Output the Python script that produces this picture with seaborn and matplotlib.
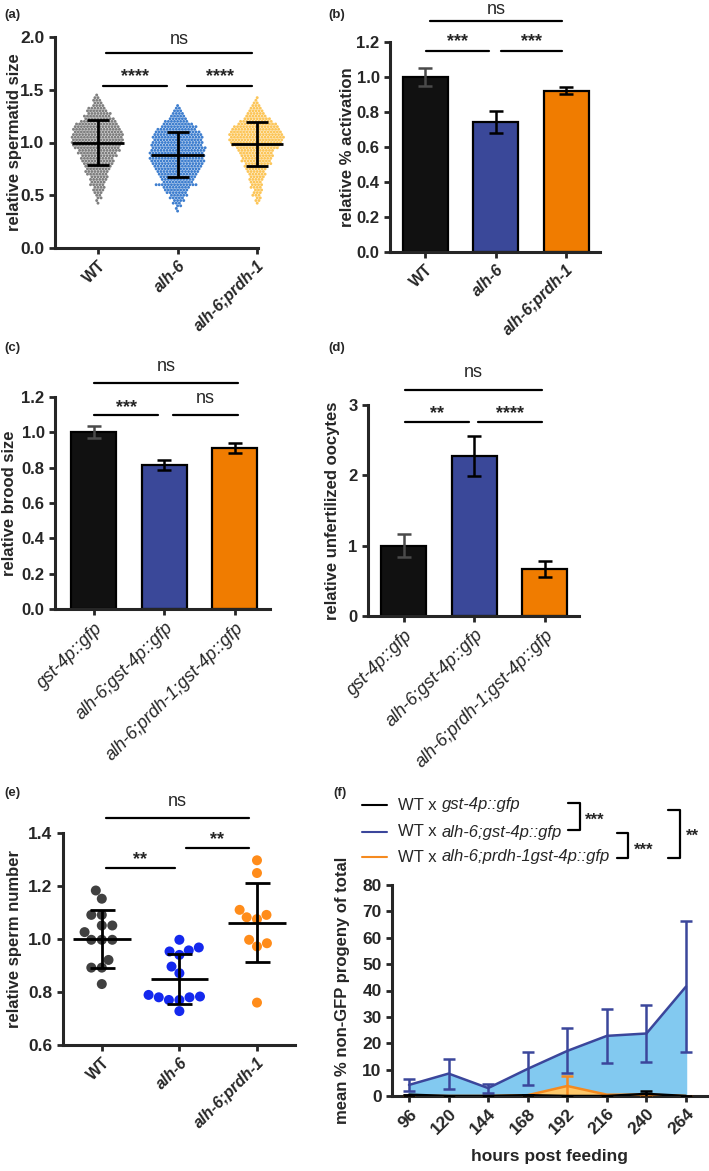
import warnings
import numpy as np
import pandas as pd
import matplotlib
matplotlib.use("Agg")
import matplotlib.pyplot as plt
import seaborn as sns
from matplotlib.lines import Line2D

warnings.filterwarnings("ignore")

# === data ===
genotypes = ["WT", "alh-6", "alh-6;prdh-1"]
gfp_genotypes = ["gst-4p::gfp", "alh-6;gst-4p::gfp", "alh-6;prdh-1;gst-4p::gfp"]

# (a) spermatid size: value rows and number of dots in each row
size_levels = [0.35, 0.375, 0.40, 0.425, 0.45, 0.475, 0.50, 0.525, 0.55, 0.575,
               0.60, 0.625, 0.65, 0.675, 0.70, 0.725, 0.75, 0.775, 0.80, 0.825,
               0.85, 0.875, 0.90, 0.925, 0.95, 0.975, 1.00, 1.025, 1.05, 1.075,
               1.10, 1.125, 1.15, 1.175, 1.20, 1.225, 1.25, 1.275, 1.30, 1.325,
               1.35, 1.375, 1.40, 1.425, 1.45]
wt_counts = [0, 0, 0, 1, 1, 2, 2, 3, 4, 4, 5, 5, 6, 6, 7, 8, 8, 9, 10, 11, 11, 12, 13,
             14, 15, 16, 17, 17, 17, 17, 16, 16, 15, 14, 12, 10, 9, 8, 7, 6, 4, 3, 3, 2, 1]
alh6_counts = [1, 1, 2, 3, 4, 5, 6, 7, 8, 9, 14, 10, 11, 12, 13, 14, 15, 16, 17, 18, 18, 18,
               18, 18, 18, 17, 17, 16, 17, 16, 15, 13, 12, 10, 8, 6, 5, 4, 3, 2, 1, 0, 0, 0, 0]
prdh_counts = [0, 0, 0, 1, 2, 2, 3, 3, 3, 4, 4, 4, 5, 5, 6, 6, 7, 8, 9, 10, 10, 11, 11, 12,
               14, 16, 17, 18, 18, 18, 17, 16, 15, 13, 11, 9, 7, 6, 5, 4, 3, 2, 1, 1, 0]
size_mean = [1.00, 0.882, 0.982]
size_sd = [0.21, 0.213, 0.208]

# (b) activation
act_mean = [1.00, 0.741, 0.922]
act_err = [0.05, 0.062, 0.02]

# (c) brood size
brood_mean = [1.00, 0.815, 0.912]
brood_err = [0.034, 0.026, 0.03]

# (d) unfertilized oocytes
ooc_mean = [1.00, 2.27, 0.665]
ooc_err = [0.165, 0.285, 0.115]

# (e) sperm number
wt_sperm = [1.183, 1.152, 1.091, 1.091, 1.051, 1.051, 1.026, 0.997, 0.997, 0.997,
            0.921, 0.892, 0.892, 0.830]
alh6_sperm = [0.997, 0.968, 0.957, 0.940, 0.953, 0.896, 0.871, 0.789, 0.783, 0.780,
              0.780, 0.770, 0.770, 0.728]
prdh_sperm = [1.297, 1.249, 1.110, 1.091, 1.082, 1.075, 0.997, 0.984, 0.972, 0.760]
sperm_mean = [1.00, 0.848, 1.062]
sperm_sd = [0.108, 0.094, 0.15]

# (f) non-GFP progeny
hours = ["96", "120", "144", "168", "192", "216", "240", "264"]
wt_prog = [0.5, 0.0, 0.0, 0.3, 0.0, 0.0, 0.8, 0.0]
wt_prog_err = [0.0, 0.0, 0.0, 0.0, 0.0, 0.0, 1.0, 0.0]
alh6_prog = [4.2, 8.5, 3.0, 10.3, 17.1, 22.8, 23.7, 41.5]
alh6_prog_err = [2.2, 5.7, 1.7, 6.3, 8.5, 10.1, 10.8, 25.0]
prdh_prog = [0.0, 0.0, 0.0, 0.3, 3.8, 0.5, 0.5, 0.0]
prdh_prog_err = [0.0, 0.0, 0.0, 0.0, 3.8, 0.0, 0.0, 0.0]

# === style ===
sns.set_style("ticks")
plt.rcParams["font.family"] = ["Liberation Sans", "DejaVu Sans"]
plt.rcParams["axes.linewidth"] = 2.2
plt.rcParams["xtick.major.width"] = 2.0
plt.rcParams["ytick.major.width"] = 2.0
plt.rcParams["xtick.major.size"] = 4
plt.rcParams["ytick.major.size"] = 4

W, H = 709, 1171
fig = plt.figure(figsize=(W / 100, H / 100), dpi=100)


def box(l, t, r, b):
    return [l / W, 1 - b / H, (r - l) / W, (b - t) / H]


def fx(x):
    return x / W


def fy(y):
    return 1 - y / H


def style_ax(ax, size=11):
    sns.despine(ax=ax)
    ax.tick_params(labelsize=size)
    for lab in ax.get_yticklabels():
        lab.set_fontweight("bold")


def xlabels(ax, labels, size, weight, italic_all=False):
    ax.set_xticks(range(len(labels)))
    ax.set_xticklabels(labels, rotation=45, ha="right", rotation_mode="anchor",
                       fontsize=size, fontweight=weight)
    for lab in ax.get_xticklabels():
        if italic_all or lab.get_text() != "WT":
            lab.set_fontstyle("italic")


def sig(ax, x0, x1, y, text, ty, size=13):
    ax.plot([x0, x1], [y, y], color="black", lw=1.6, clip_on=False)
    weight = "normal" if text == "ns" else "bold"
    ax.text((x0 + x1) / 2, ty, text, ha="center", va="center", fontsize=size,
            fontweight=weight, clip_on=False)


pal3 = ["#111111", "#3a4899", "#f07c00"]

# === (a) ===
ax = fig.add_axes(box(55, 37, 258, 248))
rows = []
for g, counts in zip(genotypes, [wt_counts, alh6_counts, prdh_counts]):
    for v, c in zip(size_levels, counts):
        rows += [(g, v)] * c
df_a = pd.DataFrame(rows, columns=["group", "value"])
sns.swarmplot(data=df_a, x="group", y="value", hue="group", order=genotypes,
              palette=["#808080", "#3f7fcf", "#fcc65a"], size=2.1, legend=False, ax=ax)
for i, (m, s) in enumerate(zip(size_mean, size_sd)):
    ax.hlines(m, i - 0.33, i + 0.33, color="black", lw=2.0, zorder=5, clip_on=False)
    ax.errorbar(i, m, yerr=s, color="black", lw=2.0, capsize=8, capthick=2.0, zorder=5,
                clip_on=False)
for coll in ax.collections:
    coll.set_clip_on(False)
for ln in ax.lines:
    ln.set_clip_on(False)
ax.set_xlim(-0.54, 2.01)
ax.set_ylim(0, 2.0)
ax.set_yticks([0.0, 0.5, 1.0, 1.5, 2.0])
ax.set_yticklabels(["0.0", "0.5", "1.0", "1.5", "2.0"])
ax.set_xlabel("")
ax.set_ylabel("relative spermatid size", fontsize=12, fontweight="bold")
ax.yaxis.set_label_coords(-0.165, 0.5)
style_ax(ax, 12.5)
xlabels(ax, genotypes, 11.5, "bold")
sig(ax, 0.1, 1.94, 1.85, "ns", 1.98, 13)
sig(ax, 0.06, 0.87, 1.535, "****", 1.62, 13)
sig(ax, 1.12, 1.94, 1.535, "****", 1.62, 13)

# === bar panels ===
def bar_panel(rect, means, errs, labels, ylim, yticks, yticklabels, ylabel, xlim, lab_x,
              italic_all, lab_weight, lab_size):
    ax = fig.add_axes(rect)
    d = pd.DataFrame({"group": labels, "value": means})
    sns.barplot(data=d, x="group", y="value", hue="group", palette=pal3, width=0.64,
                saturation=1, edgecolor="black", linewidth=1.6, errorbar=None,
                legend=False, ax=ax)
    for i, (m, e) in enumerate(zip(means, errs)):
        ax.errorbar(i, m, yerr=e, color="#4a4a4a" if i == 0 else "black", lw=1.8,
                    capsize=5.3, capthick=1.8, zorder=5)
    ax.set_xlim(*xlim)
    ax.set_ylim(*ylim)
    ax.set_yticks(yticks)
    ax.set_yticklabels(yticklabels)
    ax.set_xlabel("")
    ax.set_ylabel(ylabel, fontsize=12, fontweight="bold")
    ax.yaxis.set_label_coords(lab_x, 0.5)
    style_ax(ax, 12)
    xlabels(ax, labels, lab_size, lab_weight, italic_all)
    return ax


ticks12 = [0.0, 0.2, 0.4, 0.6, 0.8, 1.0, 1.2]
tl12 = ["0.0", "0.2", "0.4", "0.6", "0.8", "1.0", "1.2"]

ax = bar_panel(box(390, 42, 600, 252), act_mean, act_err, genotypes, (0, 1.2), ticks12, tl12,
               "relative % activation", (-0.5, 2.48), -0.167, False, "bold", 11.5)
sig(ax, 0.07, 1.94, 1.32, "ns", 1.385, 13)
sig(ax, 0.01, 0.91, 1.149, "***", 1.20, 13)
sig(ax, 1.08, 1.94, 1.149, "***", 1.20, 13)

ax = bar_panel(box(55, 397, 270, 609), brood_mean, brood_err, gfp_genotypes, (0, 1.2), ticks12,
               tl12, "relative brood size", (-0.55, 2.5), -0.177, True, "normal", 13)
sig(ax, 0.01, 2.04, 1.279, "ns", 1.37, 13)
sig(ax, 0.01, 0.91, 1.098, "***", 1.14, 13)
sig(ax, 1.12, 2.04, 1.098, "ns", 1.19, 13)

ax = bar_panel(box(368, 405, 579, 616), ooc_mean, ooc_err, gfp_genotypes, (0, 3), [0, 1, 2, 3],
               ["0", "1", "2", "3"], "relative unfertilized oocytes", (-0.51, 2.49), -0.133,
               True, "normal", 13)
sig(ax, 0.02, 1.96, 3.21, "ns", 3.46, 13)
sig(ax, 0.02, 0.93, 2.76, "**", 2.88, 13)
sig(ax, 1.06, 1.96, 2.76, "****", 2.88, 13)

# === (e) ===
ax = fig.add_axes(box(63, 833, 295, 1045))
df_e = pd.DataFrame({
    "group": [genotypes[0]] * len(wt_sperm) + [genotypes[1]] * len(alh6_sperm)
             + [genotypes[2]] * len(prdh_sperm),
    "value": wt_sperm + alh6_sperm + prdh_sperm,
})
sns.swarmplot(data=df_e, x="group", y="value", hue="group", order=genotypes,
              palette=["#404040", "#1428ee", "#ff8c1a"], size=7.2, legend=False, ax=ax)
for i, (m, s) in enumerate(zip(sperm_mean, sperm_sd)):
    ax.hlines(m, i - 0.37, i + 0.37, color="black", lw=2.0, zorder=5)
    ax.errorbar(i, m, yerr=s, color="black", lw=2.0, capsize=9, capthick=2.0, zorder=5)
ax.set_xlim(-0.5, 2.49)
ax.set_ylim(0.6, 1.4)
ax.set_yticks([0.6, 0.8, 1.0, 1.2, 1.4])
ax.set_yticklabels(["0.6", "0.8", "1.0", "1.2", "1.4"])
ax.set_xlabel("")
ax.set_ylabel("relative sperm number", fontsize=12, fontweight="bold")
ax.yaxis.set_label_coords(-0.177, 0.5)
style_ax(ax, 12.5)
xlabels(ax, genotypes, 11.5, "bold")
sig(ax, 0.05, 1.9, 1.457, "ns", 1.52, 13)
sig(ax, 0.05, 0.94, 1.268, "**", 1.30, 13)
sig(ax, 1.08, 1.9, 1.343, "**", 1.375, 13)

# === (f) ===
ax = fig.add_axes(box(392, 885, 707, 1096))
pos = list(range(len(hours)))
ax.fill_between(pos, alh6_prog, 0, color="#82c9f0", zorder=1)
ax.fill_between(pos, prdh_prog, 0, color="#fdc86a", zorder=2)
sns.lineplot(x=pos, y=alh6_prog, color="#3b469b", lw=1.8, ax=ax, zorder=3)
sns.lineplot(x=pos, y=prdh_prog, color="#f58a1f", lw=1.8, ax=ax, zorder=3)
sns.lineplot(x=pos, y=wt_prog, color="black", lw=1.8, ax=ax, zorder=4)
ax.errorbar(pos, alh6_prog, yerr=alh6_prog_err, fmt="none", ecolor="#3b469b", elinewidth=1.8,
            capsize=4, capthick=1.8, zorder=3)
ax.errorbar(pos, prdh_prog, yerr=prdh_prog_err, fmt="none", ecolor="#f58a1f", elinewidth=1.8,
            capsize=4, capthick=1.8, zorder=3)
ax.errorbar(pos, wt_prog, yerr=wt_prog_err, fmt="none", ecolor="black", elinewidth=1.8,
            capsize=4, capthick=1.8, zorder=4)
ax.set_xlim(-0.43, 7.53)
ax.set_ylim(0, 80)
ax.set_yticks(range(0, 81, 10))
ax.set_xticks(pos)
ax.set_xticklabels(hours, rotation=45, ha="right", rotation_mode="anchor", fontsize=12.5,
                   fontweight="bold")
ax.set_ylabel("mean % non-GFP progeny of total", fontsize=12, fontweight="bold")
ax.yaxis.set_label_coords(-0.133, 0.5)
ax.set_xlabel("hours post feeding", fontsize=12.5, fontweight="bold")
ax.xaxis.set_label_coords(0.5, -0.25)
style_ax(ax, 12.5)

# legend + brackets for (f)
leg = [("black", "gst-4p::gfp", 805), ("#3b469b", "alh-6;gst-4p::gfp", 832),
       ("#f58a1f", "alh-6;prdh-1gst-4p::gfp", 857)]
for col, name, y in leg:
    fig.add_artist(Line2D([fx(362), fx(387)], [fy(y), fy(y)], color=col, lw=1.5))
    fig.text(fx(398), fy(y), "WT x", fontsize=12, va="center")
    fig.text(fx(442), fy(y), name, fontsize=12, va="center", fontstyle="italic")


def bracket(x, y0, y1, w, text, tx, ty):
    fig.add_artist(Line2D([fx(x - w), fx(x), fx(x), fx(x - w)],
                          [fy(y0), fy(y0), fy(y1), fy(y1)], color="black", lw=1.6))
    fig.text(fx(tx), fy(ty), text, fontsize=12, fontweight="bold", va="center")


bracket(580, 803, 830, 12, "***", 585, 820)
bracket(628, 833, 858, 11, "***", 634, 850)
bracket(680, 810, 858, 12, "**", 686, 836)

# panel letters
for letter, x, y in [("(a)", 4, 15), ("(b)", 328, 15), ("(c)", 4, 348), ("(d)", 328, 348),
                     ("(e)", 4, 793), ("(f)", 333, 793)]:
    fig.text(fx(x), fy(y), letter, fontsize=9.5, fontweight="bold", va="center")

fig.savefig("out.png", dpi=100)
